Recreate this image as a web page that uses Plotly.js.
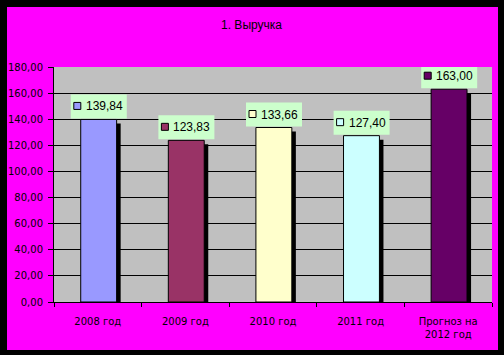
<!DOCTYPE html>
<html>
<head>
<meta charset="utf-8">
<script src="https://cdn.plot.ly/plotly-3.0.1.min.js"></script>
<style>
  html, body { margin: 0; padding: 0; background: #000000; width: 504px; height: 355px; overflow: hidden; }
  #chart { position: absolute; left: 7px; top: 7px; width: 491px; height: 343px; }
</style>
</head>
<body>
<div id="chart"></div>
<script>
const categories = ['2008 год', '2009 год', '2010 год', '2011 год', 'Прогноз на<br>2012 год'];
const values = [139.84, 123.83, 133.66, 127.40, 163.00];
const barColors = ['#9999ff', '#993366', '#ffffcc', '#ccffff', '#660066'];
const titleText = '1. Выручка';

const fmt = v => v.toFixed(2).replace('.', ',');
const shadowDrop = 3.06;   // visual drop of the shadow (style)
const barWidth = 0.41;
const barOffset = -0.195;
const shadowShift = 0.046;

const shadow = {
  type: 'bar', x: categories, y: values.map(v => v - shadowDrop),
  width: barWidth, offset: barOffset + shadowShift,
  marker: { color: '#000000', line: { width: 0 } },
  hoverinfo: 'skip', showlegend: false
};
const bars = {
  type: 'bar', x: categories, y: values,
  width: barWidth, offset: barOffset,
  marker: { color: barColors, line: { color: '#000000', width: 1 } },
  showlegend: false
};

const shapes = [];
const annotations = [];
categories.forEach((c, i) => {
  shapes.push({
    type: 'rect', layer: 'above', xref: 'x', yref: 'y',
    xsizemode: 'pixel', ysizemode: 'pixel', xanchor: c, yanchor: values[i],
    x0: -27, x1: 29, y0: 1, y1: 25,
    fillcolor: '#ccffcc', line: { width: 0 }
  });
  shapes.push({
    type: 'rect', layer: 'above', xref: 'x', yref: 'y',
    xsizemode: 'pixel', ysizemode: 'pixel', xanchor: c, yanchor: values[i],
    x0: -24, x1: -17, y0: 10, y1: 17,
    fillcolor: barColors[i], line: { color: '#000000', width: 1 }
  });
  annotations.push({
    xref: 'x', yref: 'y', x: c, y: values[i],
    xshift: 6.5, yshift: 13, xanchor: 'center', yanchor: 'middle',
    text: fmt(values[i]), showarrow: false,
    font: { family: 'Liberation Sans, Arial, sans-serif', size: 12, color: '#000000' }
  });
});

const layout = {
  width: 491, height: 343,
  margin: { l: 47, r: 6, t: 60, b: 48, pad: 0 },
  paper_bgcolor: '#ff00ff', plot_bgcolor: '#c0c0c0',
  barmode: 'overlay',
  separators: ', ',
  title: {
    text: titleText, xref: 'container', yref: 'container',
    x: 0.498, y: 0.9475, xanchor: 'center', yanchor: 'middle',
    font: { family: 'Liberation Sans, Arial, sans-serif', size: 12, color: '#000000' }
  },
  xaxis: {
    type: 'category', categoryorder: 'array', categoryarray: categories,
    showline: true, linecolor: '#000000', linewidth: 1,
    ticks: 'outside', tickson: 'boundaries', ticklen: 4, tickcolor: '#000000',
    ticklabelstandoff: 10,
    showgrid: false, zeroline: false,
    tickfont: { family: 'DejaVu Sans, sans-serif', size: 10, color: '#000000' }
  },
  yaxis: {
    range: [0, 180], dtick: 20, tick0: 0, tickformat: '.2f',
    showline: true, linecolor: '#000000', linewidth: 1,
    ticks: 'outside', ticklen: 5, tickcolor: '#000000',
    ticklabelstandoff: 3,
    showgrid: true, gridcolor: '#000000', gridwidth: 1, zeroline: false,
    tickfont: { family: 'DejaVu Sans, sans-serif', size: 10, color: '#000000' }
  },
  shapes: shapes,
  annotations: annotations
};

Plotly.newPlot('chart', [shadow, bars], layout, { displayModeBar: false, staticPlot: true });
</script>
</body>
</html>
